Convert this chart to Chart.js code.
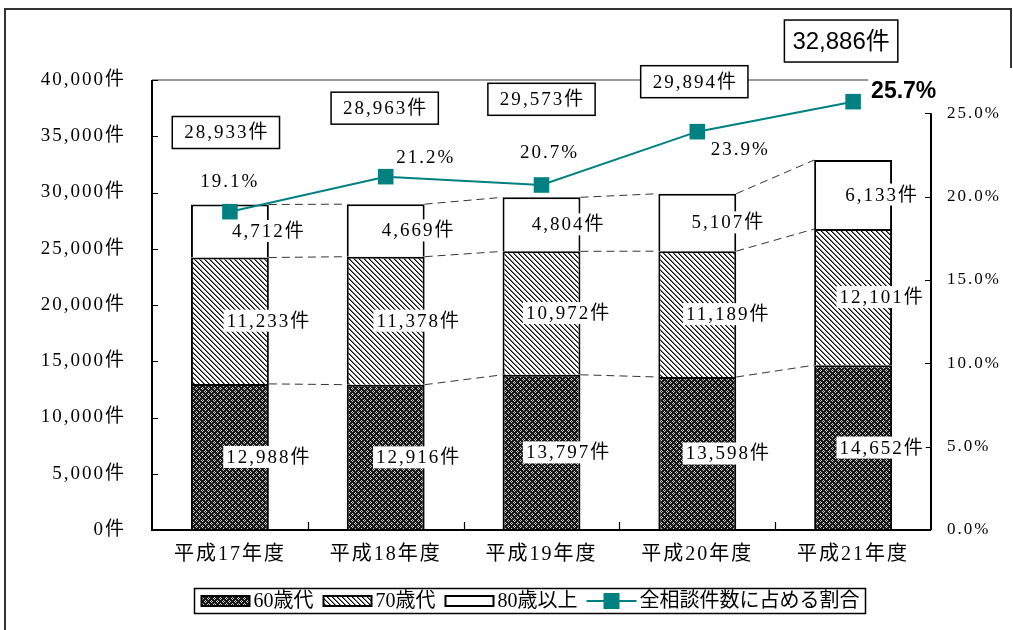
<!DOCTYPE html>
<html><head><meta charset="utf-8">
<script src="https://cdn.jsdelivr.net/npm/chart.js@4.4.1/dist/chart.umd.min.js"></script>
<style>html,body{margin:0;padding:0;background:#fff;}canvas{display:block}</style>
</head><body>
<canvas id="c" width="1013" height="630"></canvas>
<script>
// ---- data ----
const categories = ['平成17年度','平成18年度','平成19年度','平成20年度','平成21年度'];
const age60s = [12988, 12916, 13797, 13598, 14652];
const age70s = [11233, 11378, 10972, 11189, 12101];
const age80plus = [4712, 4669, 4804, 5107, 6133];
const totals = [28933, 28963, 29573, 29894, 32886];
const sharePct = [19.1, 21.2, 20.7, 23.9, 25.7];
const seriesNames = ['60歳代', '70歳代', '80歳以上', '全相談件数に占める割合'];
const countTickMax = 40000, countTickStep = 5000;
const pctTickMax = 25, pctTickStep = 5;

// ---- style ----
const SERIF = '"Liberation Serif", "Noto Sans CJK JP", serif';
const SANS = '"Liberation Sans", "Noto Sans CJK JP", sans-serif';
const TEAL = '#008080';
const SPACING = '2px';
const fmt = n => n.toLocaleString('en-US');

function makePattern(size, painter) {
  const c = document.createElement('canvas');
  c.width = c.height = size;
  const g = c.getContext('2d');
  const img = g.createImageData(size, size);
  for (let y = 0; y < size; y++) for (let x = 0; x < size; x++) {
    const v = painter(x, y), k = (y * size + x) * 4;
    img.data[k] = img.data[k+1] = img.data[k+2] = v; img.data[k+3] = 255;
  }
  g.putImageData(img, 0, 0);
  return g.createPattern(c, 'repeat');
}
const ring = new Set(['1,0','0,1','2,1','1,2','4,3','3,4','5,4','4,5']);
const pat60 = makePattern(6, (x, y) => ring.has(x + ',' + y) ? 205 : 25);
const pat70 = makePattern(5, (x, y) => { const d = ((x - y) % 5 + 5) % 5; return d === 0 ? 0 : (d === 1 ? 120 : 255); });
const fills = [pat60, pat70, '#ffffff'];

const decor = {
  id: 'decor',
  beforeDraw(chart) {
    if ('letterSpacing' in chart.ctx) chart.ctx.letterSpacing = SPACING;
  },
  beforeDatasetsDraw(chart, args, o) {
    const ctx = chart.ctx, ca = chart.chartArea;
    const y = chart.scales.y;
    ctx.save();
    ctx.strokeStyle = '#9a9a9a'; ctx.lineWidth = 2;
    ctx.beginPath(); ctx.moveTo(ca.left, y.getPixelForValue(countTickMax)); ctx.lineTo(ca.right, y.getPixelForValue(countTickMax)); ctx.stroke();
    ctx.strokeStyle = '#333'; ctx.lineWidth = 1; ctx.setLineDash([8, 5]);
    for (let d = 0; d < 3; d++) {
      const els = chart.getDatasetMeta(d).data;
      for (let i = 0; i < els.length - 1; i++) {
        const a = els[i], b = els[i + 1];
        ctx.beginPath(); ctx.moveTo(a.x + a.width / 2, a.y); ctx.lineTo(b.x - b.width / 2, b.y); ctx.stroke();
      }
    }
    ctx.restore();
  },
  afterDatasetsDraw(chart, args, o) {
    const ctx = chart.ctx, ca = chart.chartArea;
    const x = chart.scales.x, y = chart.scales.y, y1 = chart.scales.y1;
    ctx.save();
    ctx.strokeStyle = '#000'; ctx.lineWidth = 2; ctx.setLineDash([]);
    ctx.beginPath();
    ctx.moveTo(ca.left, ca.top); ctx.lineTo(ca.left, ca.bottom); ctx.lineTo(ca.right, ca.bottom);
    ctx.moveTo(ca.right, ca.bottom); ctx.lineTo(ca.right, y1.getPixelForValue(pctTickMax));
    ctx.stroke();
    ctx.lineWidth = 1.2;
    ctx.beginPath();
    y.ticks.forEach(t => { const p = Math.round(y.getPixelForValue(t.value)) + 0.5; ctx.moveTo(ca.left, p); ctx.lineTo(ca.left + 6, p); });
    y1.ticks.forEach(t => { const p = Math.round(y1.getPixelForValue(t.value)) + 0.5; ctx.moveTo(ca.right, p); ctx.lineTo(ca.right - 6, p); });
    for (let i = 0; i < categories.length - 1; i++) {
      const p = Math.round((x.getPixelForValue(i) + x.getPixelForValue(i + 1)) / 2) + 0.5;
      ctx.moveTo(p, ca.bottom); ctx.lineTo(p, ca.bottom - 8);
    }
    ctx.stroke();

    // segment value labels
    ctx.letterSpacing = SPACING;
    ctx.font = '19px ' + SERIF; ctx.textAlign = 'center'; ctx.textBaseline = 'middle';
    for (let d = 0; d < 3; d++) {
      const meta = chart.getDatasetMeta(d);
      meta.data.forEach((el, i) => {
        const txt = fmt(chart.data.datasets[d].data[i]) + '件';
        const cx = el.x + o.valueShift[i], cy = (el.y + el.base) / 2;
        const w = ctx.measureText(txt).width;
        ctx.fillStyle = '#fff'; ctx.fillRect(cx - w / 2 - 2, cy - 11, w + 4, 22);
        ctx.fillStyle = '#000'; ctx.fillText(txt, cx + 1, cy + 1);
      });
    }
    // total boxes
    const top = chart.getDatasetMeta(2).data;
    totals.forEach((t, i) => {
      const last = i === totals.length - 1;
      const txt = fmt(t) + '件';
      ctx.letterSpacing = last ? '0px' : SPACING;
      ctx.font = last ? '24px ' + SANS : '19px ' + SERIF;
      const w = ctx.measureText(txt).width;
      const cx = top[i].x + o.totalShift[i], cy = top[i].y - o.totalLift[i];
      const bw = w + (last ? 16 : 22), bh = last ? 42 : 32;
      ctx.fillStyle = '#fff'; ctx.fillRect(cx - bw / 2, cy - bh / 2, bw, bh);
      ctx.strokeStyle = '#000'; ctx.lineWidth = 1.5; ctx.strokeRect(cx - bw / 2, cy - bh / 2, bw, bh);
      ctx.fillStyle = '#000'; ctx.fillText(txt, cx + (last ? 0 : 1), cy + 1);
    });
    // percentage labels
    const pm = chart.getDatasetMeta(3).data;
    pm.forEach((pt, i) => {
      const off = o.pctOffsets[i];
      const txt = sharePct[i].toFixed(1) + '%';
      if (off[2]) {
        ctx.letterSpacing = '0px';
        ctx.font = 'bold 23px ' + SANS; ctx.textAlign = 'left';
        const w = ctx.measureText(txt).width;
        ctx.fillStyle = '#fff'; ctx.fillRect(pt.x + off[0] - 3, pt.y + off[1] - 13, w + 6, 25);
        ctx.fillStyle = '#000'; ctx.fillText(txt, pt.x + off[0], pt.y + off[1]);
      } else {
        ctx.letterSpacing = SPACING;
        ctx.font = '19px ' + SERIF; ctx.textAlign = 'center';
        ctx.fillStyle = '#000'; ctx.fillText(txt, pt.x + off[0], pt.y + off[1]);
      }
    });
    ctx.restore();
  },
  afterDraw(chart, args, o) {
    const ctx = chart.ctx, ca = chart.chartArea;
    ctx.save();
    ctx.letterSpacing = '0px';
    ctx.font = '20px ' + SERIF; ctx.textBaseline = 'middle'; ctx.textAlign = 'left';
    const sw = 50, g1 = 3, g2 = 9;
    const widths = seriesNames.map(s => ctx.measureText(s).width);
    const total = widths.reduce((a, b) => a + b, 0) + seriesNames.length * (sw + g1) + (seriesNames.length - 1) * g2;
    let lx = o.legendCenter - total / 2;
    const ly = ca.bottom + 71;
    ctx.strokeStyle = '#000'; ctx.lineWidth = 1.5;
    ctx.strokeRect(lx - 6, ly - 12.5, total + 12, 25);
    seriesNames.forEach((s, i) => {
      if (i < 3) {
        ctx.fillStyle = fills[i]; ctx.fillRect(lx + 1, ly - 5, sw - 2, 10);
        ctx.strokeStyle = '#000'; ctx.lineWidth = 2; ctx.strokeRect(lx + 1, ly - 5, sw - 2, 10);
      } else {
        ctx.strokeStyle = TEAL; ctx.lineWidth = 2;
        ctx.beginPath(); ctx.moveTo(lx, ly); ctx.lineTo(lx + sw, ly); ctx.stroke();
        ctx.fillStyle = TEAL; ctx.fillRect(lx + sw / 2 - 8, ly - 8, 16, 16);
      }
      lx += sw + g1;
      ctx.fillStyle = '#000'; ctx.fillText(s, lx, ly + 1);
      lx += widths[i] + g2;
    });
    ctx.strokeStyle = '#333'; ctx.lineWidth = 2;
    ctx.beginPath(); ctx.moveTo(5, 630); ctx.lineTo(5, 9); ctx.lineTo(1011, 9); ctx.lineTo(1011, 68); ctx.stroke();
    ctx.restore();
  }
};

new Chart(document.getElementById('c'), {
  data: {
    labels: categories,
    datasets: [
      { type: 'bar', label: seriesNames[0], data: age60s, backgroundColor: fills[0], borderColor: '#000', borderWidth: 2, borderSkipped: 'start', stack: 's', yAxisID: 'y', order: 1 },
      { type: 'bar', label: seriesNames[1], data: age70s, backgroundColor: fills[1], borderColor: '#000', borderWidth: 2, borderSkipped: 'start', stack: 's', yAxisID: 'y', order: 1 },
      { type: 'bar', label: seriesNames[2], data: age80plus, backgroundColor: fills[2], borderColor: '#000', borderWidth: 2, borderSkipped: 'start', stack: 's', yAxisID: 'y', order: 1 },
      { type: 'line', label: seriesNames[3], data: sharePct, borderColor: TEAL, borderWidth: 2, pointStyle: 'rect', pointRadius: 11, pointBackgroundColor: TEAL, pointBorderColor: TEAL, pointBorderWidth: 0, yAxisID: 'y1', order: 0, tension: 0 }
    ]
  },
  options: {
    responsive: false, animation: false, devicePixelRatio: 1,
    layout: { padding: { top: 80, left: 0, right: 0, bottom: 0 } },
    datasets: { bar: { categoryPercentage: 0.5, barPercentage: 1 } },
    plugins: {
      legend: { display: false }, tooltip: { enabled: false },
      decor: {
        valueShift: [38, 32, 26, 30, 28],
        totalShift: [-4, -1, 0, -3, -12],
        totalLift: [72, 96, 98, 112, 119],
        pctOffsets: [[0, -30], [40, -19], [8, -32], [43, 18], [18, -10, true]],
        legendCenter: 530
      }
    },
    scales: {
      x: {
        stacked: true,
        grid: { display: false, drawTicks: false }, border: { display: false },
        ticks: { font: { family: SERIF, size: 20 }, color: '#000', padding: 13 },
        afterFit: s => { s.height = 100; }
      },
      y: {
        stacked: true, position: 'left', min: 0, max: countTickMax,
        grid: { display: false, drawTicks: false }, border: { display: false },
        ticks: { stepSize: countTickStep, autoSkip: false, font: { family: SERIF, size: 19 }, color: '#000', padding: 26, callback: v => fmt(v) + '件' },
        afterFit: s => { s.width = 152; }
      },
      y1: {
        position: 'right', min: 0, max: 27,
        grid: { display: false, drawTicks: false }, border: { display: false },
        ticks: { stepSize: pctTickStep, autoSkip: false, font: { family: SERIF, size: 17 }, color: '#000', padding: 16, callback: v => v.toFixed(1) + '%' },
        afterBuildTicks: s => { s.ticks = s.ticks.filter(t => t.value <= pctTickMax + 1e-9); },
        afterFit: s => { s.width = 82; }
      }
    }
  },
  plugins: [decor]
});
</script>
</body></html>
